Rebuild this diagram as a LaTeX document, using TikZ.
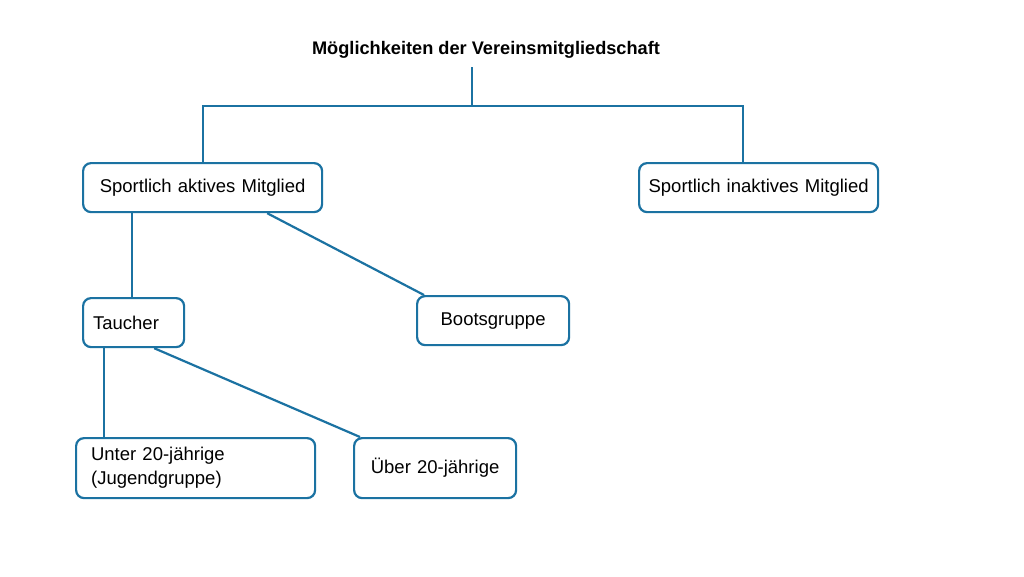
\documentclass[tikz,border=0pt]{standalone}
\usepackage{fontspec}
\setmainfont{Liberation Sans}
\definecolor{lineblue}{HTML}{1B72A2}
\begin{document}
\begin{tikzpicture}[x=1pt,y=-1pt,
  box/.style={draw=lineblue, line width=2.2pt, rounded corners=8pt, fill=white, anchor=north west, font=\fontsize{18.5}{24}\selectfont, inner ysep=0pt},
  conn/.style={draw=lineblue, line width=2.2pt}]
\useasboundingbox[fill=white] (0,0) rectangle (1024,576);
\node[font=\bfseries\fontsize{18.2}{20}\selectfont] (title) at (486,50) {Möglichkeiten der Vereinsmitgliedschaft};
\node[box, minimum width=239pt, minimum height=49pt, inner xsep=4pt, text width=231pt, align=center] (aktiv) at (82,162) {Sportlich aktives Mitglied};
\node[box, minimum width=239pt, minimum height=49pt, inner xsep=4pt, text width=231pt, align=center] (inaktiv) at (638,162) {Sportlich inaktives Mitglied};
\node[box, minimum width=101pt, minimum height=49pt, inner xsep=10pt, text width=81pt, align=left] (taucher) at (82,297) {Taucher};
\node[box, minimum width=152pt, minimum height=49pt, inner xsep=4pt, text width=144pt, align=center] (boots) at (416,295) {Bootsgruppe};
\node[box, minimum width=239pt, minimum height=60pt, inner xsep=15pt, text width=209pt, align=left] (unter) at (75,437) {Unter 20-jährige\\(Jugendgruppe)};
\node[box, minimum width=162pt, minimum height=60pt, inner xsep=4pt, text width=154pt, align=center] (ueber) at (353,437) {Über 20-jährige};
\coordinate (top) at (472,67);
\coordinate (bar) at (472,106);
\draw[conn] (top) -- (bar);
\draw[conn] (bar) -| (aktiv.north);
\draw[conn] (bar) -| ([xshift=-15.5pt]inaktiv.north);
\draw[conn] ([xshift=50pt]aktiv.south west) -- ([xshift=50pt]taucher.north west);
\draw[conn] ([xshift=-56pt]aktiv.south east) -- ([xshift=8pt]boots.north west);
\draw[conn] ([xshift=22pt]taucher.south west) -- ([xshift=29pt]unter.north west);
\draw[conn] ([xshift=-31pt]taucher.south east) -- ([xshift=7pt]ueber.north west);
\end{tikzpicture}
\end{document}
